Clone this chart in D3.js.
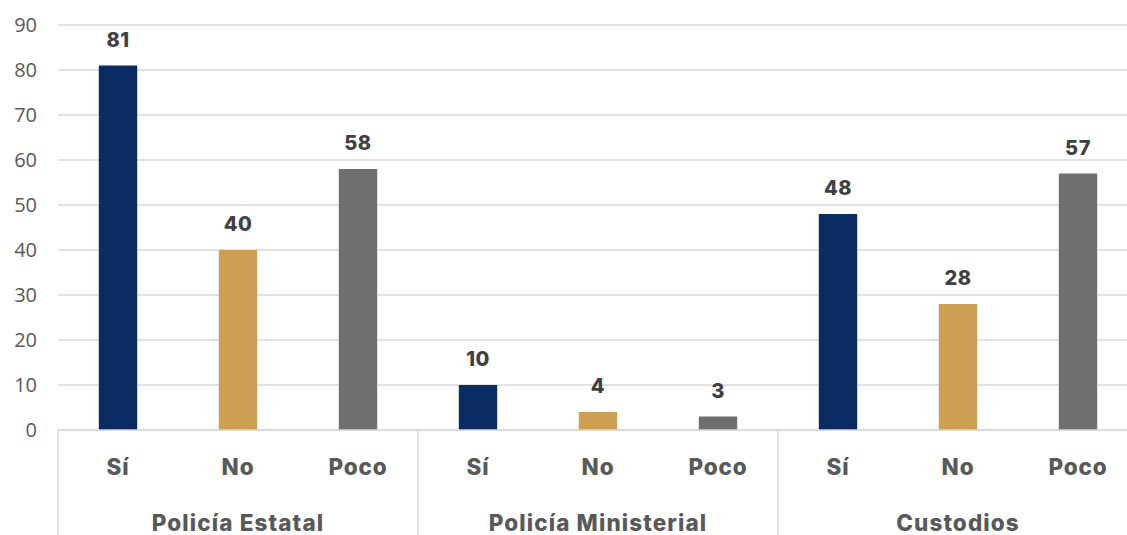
<!DOCTYPE html>
<html><head><meta charset="utf-8">
<script src="https://cdn.jsdelivr.net/npm/d3@7"></script>
<style>body{margin:0;background:#fff;overflow:hidden}svg{display:block}</style>
</head><body>
<svg id="c" width="1127" height="535"></svg>
<script>
const groups = ["Policía Estatal", "Policía Ministerial", "Custodios"];
const answers = ["Sí", "No", "Poco"];
const values = [
  [81, 40, 58],
  [10, 4, 3],
  [48, 28, 57]
];
const colors = ["#0b2c63", "#cc9f53", "#6f6f6f"];
const yTicks = [0,10,20,30,40,50,60,70,80,90];

const svg = d3.select("#c");
const mLeft = 58, mRight = 1138, mTop = 25, mBottom = 430;
const y = d3.scaleLinear().domain([0, 90]).range([mBottom, mTop]);
const gx = d3.scaleBand().domain(groups).range([mLeft, mRight]).padding(0);
const ax = d3.scaleBand().domain(answers).range([0, gx.bandwidth()]).paddingInner(0.68).paddingOuter(0.34);

// gridlines
svg.append("g").selectAll("line").data(yTicks).join("line")
  .attr("x1", mLeft).attr("x2", mRight)
  .attr("y1", d => y(d)).attr("y2", d => y(d))
  .attr("stroke", "#d9d9d9").attr("stroke-width", 1.3);

// y tick labels
svg.append("g").selectAll("text").data(yTicks).join("text")
  .attr("x", 37).attr("y", d => y(d)).attr("dy", "0.36em")
  .attr("text-anchor", "end")
  .attr("font-family", "Open Sans, sans-serif").attr("font-size", 20)
  .attr("fill", "#595959").text(d => d);

// bars
const g = svg.append("g").selectAll("g").data(groups).join("g")
  .attr("transform", d => `translate(${gx(d)},0)`);
g.each(function(gname, gi) {
  const sel = d3.select(this);
  const data = answers.map((a, i) => ({a, v: values[gi][i], i}));
  sel.selectAll("rect").data(data).join("rect")
    .attr("x", d => ax(d.a)).attr("width", ax.bandwidth())
    .attr("y", d => y(d.v)).attr("height", d => y(0) - y(d.v))
    .attr("fill", d => colors[d.i]);
  sel.selectAll("text.v").data(data).join("text").attr("class", "v")
    .attr("x", d => ax(d.a) + ax.bandwidth() / 2)
    .attr("y", d => y(d.v) - 19)
    .attr("text-anchor", "middle")
    .attr("font-family", "Inter, sans-serif").attr("font-weight", 800).attr("font-size", 20)
    .attr("letter-spacing", 0.5)
    .attr("fill", "#404040").text(d => d.v);
  sel.selectAll("text.a").data(data).join("text").attr("class", "a")
    .attr("x", d => ax(d.a) + ax.bandwidth() / 2)
    .attr("y", 475)
    .attr("text-anchor", "middle")
    .attr("font-family", "Inter, sans-serif").attr("font-weight", 800).attr("font-size", 22.5)
    .attr("letter-spacing", 0.8)
    .attr("fill", "#595959").text(d => d.a);
  sel.append("text")
    .attr("x", gx.bandwidth() / 2).attr("y", 531)
    .attr("text-anchor", "middle")
    .attr("font-family", "Inter, sans-serif").attr("font-weight", 800).attr("font-size", 22.5)
    .attr("letter-spacing", 1.1)
    .attr("fill", "#595959").text(gname);
});

// axis line & separators
svg.append("line").attr("x1", mLeft).attr("x2", mRight).attr("y1", mBottom).attr("y2", mBottom)
  .attr("stroke", "#d9d9d9").attr("stroke-width", 1.5);
svg.append("g").selectAll("line").data(groups.concat(["end"])).join("line")
  .attr("x1", (d, i) => mLeft + i * gx.bandwidth()).attr("x2", (d, i) => mLeft + i * gx.bandwidth())
  .attr("y1", mBottom).attr("y2", 535)
  .attr("stroke", "#d9d9d9").attr("stroke-width", 1.5);
</script>
</body></html>
